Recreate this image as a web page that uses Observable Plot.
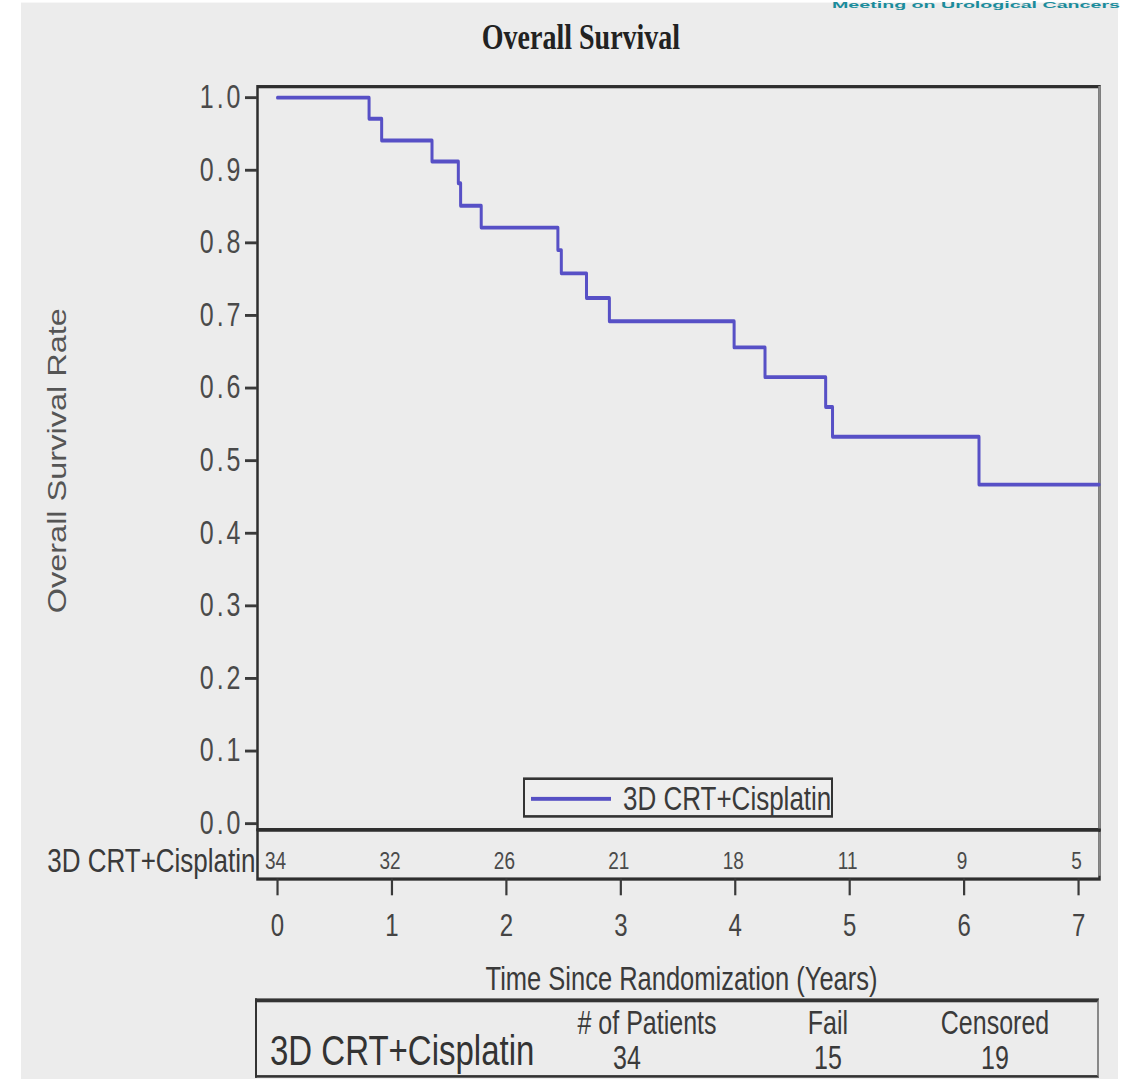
<!DOCTYPE html>
<html>
<head>
<meta charset="utf-8">
<script src="https://cdn.jsdelivr.net/npm/d3@7"></script>
<script src="https://cdn.jsdelivr.net/npm/@observablehq/plot@0.6"></script>
<style>
  html, body { margin: 0; padding: 0; background: #ffffff; }
  body { width: 1125px; height: 1079px; overflow: hidden; position: relative;
         font-family: "Liberation Sans", Arial, Helvetica, sans-serif; }
  #stage { position: absolute; left: 0; top: 0; width: 1125px; height: 830px;
           transform: scaleY(1.3); transform-origin: 0 0; }
  #bg { position: absolute; left: 21px; top: 2.3px; width: 1097px; height: 830px; background: #ececec; }
  #banner { position: absolute; left: 832px; top: -0.5px; font-size: 7px; line-height: 7px;
            font-weight: bold; color: #1b8c9c; white-space: nowrap; transform-origin: 0 0; }
  #title { position: absolute; left: 381px; width: 400px; text-align: center; top: 14px;
           font-family: "Liberation Serif", "Times New Roman", serif; font-weight: bold;
           font-size: 28px; line-height: 30px; color: #222; }
  #legend { position: absolute; box-sizing: border-box; border: 2px solid #333; background: #eeeeee; }
  #legend .swatch { position: absolute; left: 6px; width: 80px; top: 13px; border-top: 3px solid #5650c4; }
  #legend .lab { position: absolute; left: 98px; top: 0; font-size: 26px; line-height: 28px; color: #3a3a3a; white-space: nowrap; }
  #summary { position: absolute; box-sizing: border-box; border-top: 3px solid #333; border-left: 2px solid #333;
             border-right: 2px solid #888; border-bottom: 2px solid #333; }
  #summary .cell { position: absolute; width: 200px; text-align: center; font-size: 25px; line-height: 26px; color: #3a3a3a; white-space: nowrap; }
  #summary .big { position: absolute; font-size: 33px; line-height: 34px; color: #333; white-space: nowrap; }
  [aria-label="y-axis tick label"] text { letter-spacing: 3px; }
</style>
</head>
<body>
<div id="stage">
  <div id="bg"></div>
  <div id="banner">Meeting on Urological Cancers</div>
  <div id="title"></div>
  <div id="legend"><span class="swatch"></span><span class="lab"></span></div>
  <div id="summary"></div>
</div>
<script>
// ---------------- data ----------------
const titleText = "Overall Survival";
const yLabelText = "Overall Survival Rate";
const xLabelText = "Time Since Randomization (Years)";
const groupName = "3D CRT+Cisplatin";

// Kaplan-Meier step points (years, survival probability)
const times = [0, 0.80, 0.91, 1.35, 1.58, 1.60, 1.78, 2.45, 2.48, 2.70, 2.90, 3.99, 4.26, 4.79, 4.85, 6.13, 7.18];
const surv  = [1.0, 0.971, 0.941, 0.912, 0.882, 0.851, 0.821, 0.790, 0.758, 0.724, 0.692, 0.656, 0.615, 0.574, 0.533, 0.467, 0.467];

// numbers at risk
const atRiskTimes = [0, 1, 2, 3, 4, 5, 6, 7];
const atRisk = [34, 32, 26, 21, 18, 11, 9, 5];

// tick labels
const yTicks = [0.0, 0.1, 0.2, 0.3, 0.4, 0.5, 0.6, 0.7, 0.8, 0.9, 1.0];
const xTicks = [0, 1, 2, 3, 4, 5, 6, 7];

// summary table
const summaryHeaders = ["# of Patients", "Fail", "Censored"];
const summaryValues = [34, 15, 19];

// ---------------- layout ----------------
const S = 1.3;                 // vertical stretch of the stage
const py = y => y / S;         // page y -> stage y
const W = 1125, mL = 257, mR = 26;
const xDomain = [-0.175, 7.183];
const frameTop = py(86), frameBot = py(829), yAt1 = py(97), yAt0 = py(823);
const span = yAt0 - yAt1;
const yDomain = [-(frameBot - yAt0) / span, 1 + (yAt1 - frameTop) / span];
const FONT = '"Liberation Sans", Arial, Helvetica, sans-serif';
const stage = document.getElementById("stage");

document.getElementById("title").textContent = titleText;
document.getElementById("title").style.top = (py(38) - 15) + "px";

// main plot
const H1 = Math.ceil(frameBot + 3);
const kmData = times.map((t, i) => ({t, s: surv[i]}));
const main = Plot.plot({
  width: W, height: H1,
  marginLeft: mL, marginRight: mR, marginTop: frameTop, marginBottom: H1 - frameBot,
  style: {background: "transparent", color: "#3a3a3a", fontFamily: FONT, fontSize: "24px", overflow: "visible"},
  x: {domain: xDomain, axis: null},
  y: {domain: yDomain},
  marks: [
    Plot.frame({stroke: "#2e2e2e", strokeWidth: 2.5}),
    Plot.ruleX([xDomain[1]], {stroke: "#8a8a8a", strokeWidth: 2.5}),
    Plot.axisY({ticks: yTicks, tickSize: 12, tickPadding: 2, strokeWidth: 2.2,
                tickFormat: d3.format(".1f"), fontSize: 25, label: null, fill: "#4a4a4a"}),
    Plot.line(kmData, {x: "t", y: "s", curve: "step-after", stroke: "#5750c6", strokeWidth: 3}),
    Plot.text([yLabelText], {frameAnchor: "left", textAnchor: "middle", dx: 57 - mL, dy: 2, rotate: -90,
                             fontSize: 25, fill: "#555", text: d => d})
  ]
});
main.style.position = "absolute";
main.style.left = "0px";
main.style.top = "0px";
stage.appendChild(main);

// at-risk row + x axis
const boxBot = py(878);
const mT2 = 2;
const top2 = frameBot - mT2;
const boxH = boxBot - frameBot;
const H2 = 135;
const risk = Plot.plot({
  width: W, height: H2,
  marginLeft: mL, marginRight: mR, marginTop: mT2, marginBottom: H2 - mT2 - boxH,
  style: {background: "transparent", color: "#3a3a3a", fontFamily: FONT, fontSize: "24px", overflow: "visible"},
  x: {domain: xDomain, axis: null},
  y: {domain: [groupName], padding: 0, axis: null},
  marks: [
    Plot.frame({stroke: "#2e2e2e", strokeWidth: 2.5}),
    Plot.ruleX([xDomain[1]], {stroke: "#8a8a8a", strokeWidth: 2.5, insetTop: 2, insetBottom: 2}),
    Plot.text([groupName], {y: d => d, frameAnchor: "left", textAnchor: "end", dx: -2, dy: 5, fontSize: 26, fill: "#3a3a3a", text: d => d}),
    Plot.text(atRiskTimes, {x: d => d, y: () => groupName, text: (d, i) => String(atRisk[i]), dy: 5, dx: -2, fontSize: 19, fill: "#4a4a4a"}),
    Plot.axisX({ticks: xTicks, anchor: "bottom", tickSize: 13, tickPadding: 14, strokeWidth: 2.2,
                fontSize: 24, label: null, fill: "#444"}),
    Plot.text([xLabelText], {frameAnchor: "bottom", dx: 3, dy: py(980) - boxBot + 7, fontSize: 25.5, fill: "#3a3a3a", text: d => d})
  ]
});
risk.style.position = "absolute";
risk.style.left = "0px";
risk.style.top = top2 + "px";
stage.appendChild(risk);

// banner (cropped header text at top right of the slide)
const bn = document.getElementById("banner");
const bnW = bn.getBoundingClientRect().width;
bn.style.transform = `scaleX(${288 / bnW})`;

// legend
const lg = document.getElementById("legend");
lg.style.left = "523px";
lg.style.top = py(778) + "px";
lg.style.width = "310px";
lg.style.height = (py(818) - py(778)) + "px";
lg.querySelector(".lab").textContent = groupName;

// summary table
const sm = document.getElementById("summary");
const smTop = py(998);
sm.style.left = "255px";
sm.style.top = smTop + "px";
sm.style.width = (1099 - 255) + "px";
sm.style.height = (py(1078) - smTop) + "px";
const big = document.createElement("div");
big.className = "big";
big.textContent = groupName;
big.style.left = "13px";
big.style.top = (py(1050) - smTop - 17 - 3) + "px";
sm.appendChild(big);
const centers = [647, 828, 995];
summaryHeaders.forEach((h, i) => {
  const d = document.createElement("div");
  d.className = "cell";
  d.textContent = h;
  d.style.left = (centers[i] - 255 - 100 - 2) + "px";
  d.style.top = (py(1022) - smTop - 13 - 3) + "px";
  sm.appendChild(d);
  const v = document.createElement("div");
  v.className = "cell";
  v.textContent = String(summaryValues[i]);
  v.style.left = (centers[i] - 255 - 100 - 2 - (i === 0 ? 20 : 0)) + "px";
  v.style.top = (py(1057) - smTop - 13 - 3) + "px";
  sm.appendChild(v);
});
</script>
</body>
</html>
